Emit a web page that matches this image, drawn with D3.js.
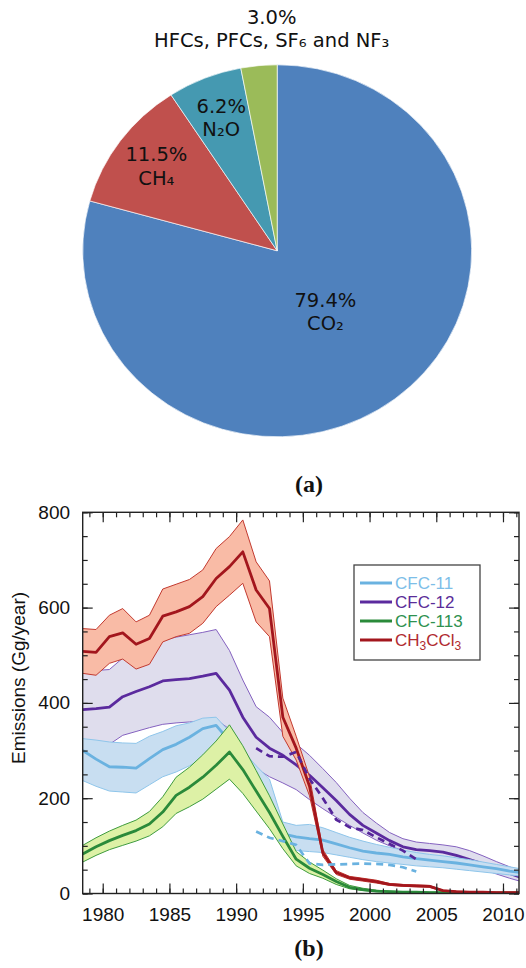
<!DOCTYPE html>
<html>
<head>
<meta charset="utf-8">
<script src="https://cdn.jsdelivr.net/npm/d3@7"></script>
<style>
  html, body { margin: 0; padding: 0; background: #fff; }
  svg { display: block; }
</style>
</head>
<body>
<svg id="fig" width="526" height="968"></svg>
<script>
// ---------- Panel (a): share of greenhouse-gas emissions (%) ----------
const gasNames  = ["CO₂", "CH₄", "N₂O", "HFCs, PFCs, SF₆ and NF₃"];
const gasShares = [79.4, 11.5, 6.2, 3.0];
const gasColors = ["#4F81BD", "#C0504D", "#4599B1", "#9BBB59"];

// ---------- Panel (b): emissions (Gg/year), annual means ----------
const years = [1978, 1979, 1980, 1981, 1982, 1983, 1984, 1985, 1986, 1987,
               1988, 1989, 1990, 1991, 1992, 1993, 1994, 1995, 1996, 1997,
               1998, 1999, 2000, 2001, 2002, 2003, 2004, 2005, 2006, 2007,
               2008, 2009, 2010, 2011];

const cfc11   = [300, 282, 266, 265, 263, 283, 302, 313, 328, 346, 353, 320, 265, 215, 185, 125, 119, 115, 112, 104, 96, 89, 85, 82, 77, 73, 70, 67, 64, 60, 56, 52, 47, 43];
const cfc11Lo = [237, 225, 215, 213, 211, 228, 245, 255, 268, 282, 290, 262, 218, 178, 150, 95, 90, 88, 86, 81, 76, 71, 67, 64, 61, 58, 56, 54, 51, 48, 45, 42, 39, 36];
const cfc11Hi = [325, 322, 318, 316, 315, 330, 340, 352, 358, 368, 370, 340, 300, 268, 240, 150, 143, 145, 138, 128, 118, 110, 103, 97, 91, 86, 82, 79, 75, 71, 66, 61, 56, 51];

const cfc12   = [386, 388, 391, 413, 424, 434, 446, 449, 451, 456, 462, 427, 370, 328, 305, 290, 270, 248, 222, 195, 166, 143, 127, 111, 98, 92, 90, 87, 80, 71, 62, 52, 42, 32];
const cfc12Lo = [310, 311, 313, 332, 340, 348, 355, 358, 360, 362, 365, 345, 305, 262, 245, 232, 218, 197, 178, 160, 143, 127, 112, 100, 90, 80, 75, 72, 67, 60, 51, 41, 32, 24];
const cfc12Hi = [468, 468, 470, 494, 505, 518, 532, 538, 543, 548, 554, 510, 448, 392, 370, 338, 314, 290, 262, 233, 200, 170, 148, 128, 115, 108, 105, 102, 98, 90, 79, 67, 56, 44];

const cfc113   = [83, 98, 111, 122, 132, 146, 171, 206, 223, 244, 269, 297, 260, 215, 170, 120, 72, 53, 40, 25, 13, 8, 5, 4, 3, 3, 2, 2, 2, 1, 1, 1, 1, 1];
const cfc113Lo = [66, 80, 92, 101, 110, 121, 140, 168, 182, 198, 219, 240, 210, 173, 136, 94, 58, 42, 32, 19, 10, 6, 4, 3, 2, 2, 1, 1, 1, 0, 0, 0, 0, 0];
const cfc113Hi = [101, 117, 131, 143, 154, 172, 203, 244, 265, 291, 320, 354, 310, 258, 205, 146, 88, 66, 49, 31, 17, 11, 7, 5, 4, 4, 3, 3, 3, 2, 2, 2, 2, 2];

const ch3ccl3   = [508, 506, 539, 547, 523, 535, 582, 591, 602, 623, 661, 686, 717, 637, 598, 370, 305, 225, 85, 44, 33, 29, 25, 19, 17, 16, 15, 6, 4, 3, 3, 2, 2, 2];
const ch3ccl3Lo = [462, 458, 483, 492, 471, 481, 528, 539, 546, 567, 602, 626, 651, 570, 539, 330, 280, 205, 78, 40, 30, 26, 22, 17, 15, 14, 13, 5, 3, 2, 2, 1, 1, 1];
const ch3ccl3Hi = [556, 554, 584, 598, 570, 584, 639, 649, 659, 679, 724, 749, 784, 696, 656, 410, 330, 245, 92, 48, 36, 32, 28, 21, 19, 18, 17, 7, 5, 4, 4, 3, 3, 3];

// independent (bottom-up) estimates, dashed
const altYears  = [1991, 1992, 1993, 1994, 1995, 1996, 1997, 1998, 1999, 2000, 2001, 2002, 2003];
const cfc11Alt  = [130, 117, 110, 102, 63, 60, 61, 62, 63, 62, 60, 55, 46];
const cfc12Alt  = [305, 288, 287, 297, 241, 200, 155, 139, 133, 118, 104, 90, 72];

const xTickYears = [1980, 1985, 1990, 1995, 2000, 2005, 2010];
const yTickValues = [0, 200, 400, 600, 800];

const svg = d3.select("#fig");

// ================= Panel (a): pie =================
{
  const cx = 277.2, cy = 250.8, rx = 194.5, ry = 186;
  const sy = ry / rx;
  const data = gasNames.map((name, i) => ({ name, share: gasShares[i], color: gasColors[i] }));
  const arcs = d3.pie().sort(null).value(d => d.share)(data);
  const arc = d3.arc().innerRadius(0).outerRadius(rx);

  svg.append("g")
    .attr("transform", `translate(${cx},${cy}) scale(1,${sy})`)
    .selectAll("path")
    .data(arcs)
    .join("path")
    .attr("d", arc)
    .attr("fill", d => d.data.color)
    .attr("stroke", "#ffffff")
    .attr("stroke-opacity", 0.75)
    .attr("stroke-width", 0.9);

  const fmt = d3.format(".1f");
  const labels = svg.append("g")
    .attr("font-family", "Verdana, 'DejaVu Sans', sans-serif")
    .attr("font-size", 19.5)
    .attr("fill", "#111")
    .attr("text-anchor", "middle");

  arcs.forEach(a => {
    const m = (a.startAngle + a.endAngle) / 2;
    let r, nudge = 1;
    if (a.data.share > 50) r = 0.41 * rx;        // big slice: label well inside
    else if (a.data.share >= 5) r = 0.77 * rx;   // mid slices: near the rim
    else { r = 1.2 * rx; nudge = 0.25; }         // thin slice: label above the rim
    const px = cx + Math.sin(m) * r * nudge;
    const py = cy - Math.cos(m) * r * sy;
    const t = labels.append("text").attr("x", px).attr("y", py - 5);
    t.append("tspan").attr("x", px).text(fmt(a.data.share) + "%");
    t.append("tspan").attr("x", px).attr("dy", 23.5).text(a.data.name);
  });

  svg.append("text")
    .attr("x", 309).attr("y", 492)
    .attr("text-anchor", "middle")
    .attr("font-family", "'Liberation Serif', 'Times New Roman', serif")
    .attr("font-weight", "bold")
    .attr("font-size", 24)
    .attr("fill", "#111")
    .text("(a)");
}

// ================= Panel (b): emissions time series =================
{
  const left = 82.7, right = 519, top = 512.3, bottom = 893.5;
  const x = d3.scaleLinear().domain([1978.5, 2011.2]).range([left, right]);
  const y = d3.scaleLinear().domain([0, 800]).range([bottom, top]);
  const midYear = yr => x(yr + 0.5);   // annual totals plotted at mid-year

  const g = svg.append("g");
  g.append("clipPath").attr("id", "plotClip")
    .append("rect").attr("x", left).attr("y", top)
    .attr("width", right - left).attr("height", bottom - top);

  const series = [
    { name: "CFC-12",  mid: cfc12,   lo: cfc12Lo,   hi: cfc12Hi,   line: "#5B2A9E", fill: "#DFDDED", edge: "#8461BF", text: "#5A2C99" },
    { name: "CFC-11",  mid: cfc11,   lo: cfc11Lo,   hi: cfc11Hi,   line: "#6AB2E0", fill: "#C8DEF1", edge: "#8EC5EA", text: "#7DBEE8" },
    { name: "CFC-113", mid: cfc113,  lo: cfc113Lo,  hi: cfc113Hi,  line: "#2A8A3A", fill: "#DDF1A6", edge: "#3E9B3E", text: "#2E9150" },
    { name: "CH3CCl3", mid: ch3ccl3, lo: ch3ccl3Lo, hi: ch3ccl3Hi, line: "#A3161D", fill: "#F9BBA6", edge: "#C2392F", text: "#B02A30" }
  ];

  const plot = g.append("g").attr("clip-path", "url(#plotClip)");
  const idx = d3.range(years.length);

  series.forEach(s => {
    const band = d3.area()
      .x(i => midYear(years[i]))
      .y0(i => y(s.lo[i]))
      .y1(i => y(s.hi[i]));
    plot.append("path").attr("d", band(idx))
      .attr("fill", s.fill).attr("stroke", "none");
    const edgeLo = d3.line().x(i => midYear(years[i])).y(i => y(s.lo[i]));
    const edgeHi = d3.line().x(i => midYear(years[i])).y(i => y(s.hi[i]));
    [edgeLo, edgeHi].forEach(fn => plot.append("path").attr("d", fn(idx))
      .attr("fill", "none").attr("stroke", s.edge).attr("stroke-width", 1));
    const centre = d3.line().x(i => midYear(years[i])).y(i => y(s.mid[i]));
    plot.append("path").attr("d", centre(idx))
      .attr("fill", "none").attr("stroke", s.line)
      .attr("stroke-width", 2.8).attr("stroke-linejoin", "round");
  });

  // dashed alternative estimates
  const altIdx = d3.range(altYears.length);
  [[cfc12Alt, "#55259A"], [cfc11Alt, "#6AB2E0"]].forEach(([vals, col]) => {
    const ln = d3.line().x(i => midYear(altYears[i])).y(i => y(vals[i]));
    plot.append("path").attr("d", ln(altIdx))
      .attr("fill", "none").attr("stroke", col)
      .attr("stroke-width", 2.7).attr("stroke-dasharray", "7,5");
  });

  // frame and inward ticks on all four sides
  const tickCol = "#222";
  const minorYears = d3.range(1979, 2012);
  const minorVals = d3.range(0, 801, 50);
  const fontAxis = "'Liberation Sans', Arial, Helvetica, sans-serif";

  function styleAxis(sel) {
    sel.select(".domain").remove();
    sel.selectAll("line").attr("stroke", tickCol).attr("stroke-width", 1.2);
    sel.selectAll("text").attr("fill", "#111")
      .attr("font-family", fontAxis).attr("font-size", 19);
  }

  g.append("g").attr("transform", `translate(0,${bottom})`)
    .call(d3.axisBottom(x).tickValues(minorYears).tickSize(-5).tickFormat(""))
    .call(styleAxis);
  g.append("g").attr("transform", `translate(0,${bottom})`)
    .call(d3.axisBottom(x).tickValues(xTickYears).tickSize(-10).tickPadding(14).tickFormat(d3.format("d")))
    .call(styleAxis);
  g.append("g").attr("transform", `translate(0,${top})`)
    .call(d3.axisTop(x).tickValues(minorYears).tickSize(-5).tickFormat(""))
    .call(styleAxis);
  g.append("g").attr("transform", `translate(0,${top})`)
    .call(d3.axisTop(x).tickValues(xTickYears).tickSize(-10).tickFormat(""))
    .call(styleAxis);

  g.append("g").attr("transform", `translate(${left},0)`)
    .call(d3.axisLeft(y).tickValues(minorVals).tickSize(-5).tickFormat(""))
    .call(styleAxis);
  g.append("g").attr("transform", `translate(${left},0)`)
    .call(d3.axisLeft(y).tickValues(yTickValues).tickSize(-10).tickPadding(12.7).tickFormat(d3.format("d")))
    .call(styleAxis);
  g.append("g").attr("transform", `translate(${right},0)`)
    .call(d3.axisRight(y).tickValues(minorVals).tickSize(-5).tickFormat(""))
    .call(styleAxis);
  g.append("g").attr("transform", `translate(${right},0)`)
    .call(d3.axisRight(y).tickValues(yTickValues).tickSize(-10).tickFormat(""))
    .call(styleAxis);

  g.append("rect")
    .attr("x", left).attr("y", top)
    .attr("width", right - left).attr("height", bottom - top)
    .attr("fill", "none").attr("stroke", tickCol).attr("stroke-width", 1.4);

  // y-axis title
  g.append("text")
    .attr("transform", `translate(25,678) rotate(-90)`)
    .attr("text-anchor", "middle")
    .attr("font-family", fontAxis).attr("font-size", 19)
    .attr("fill", "#111")
    .text("Emissions (Gg/year)");

  // legend
  const legendOrder = ["CFC-11", "CFC-12", "CFC-113", "CH3CCl3"];
  const leg = g.append("g").attr("font-family", fontAxis).attr("font-size", 17);
  leg.append("rect").attr("x", 354).attr("y", 565).attr("width", 126).attr("height", 95)
    .attr("fill", "#fff").attr("stroke", "#444").attr("stroke-width", 1.3);
  legendOrder.forEach((nm, k) => {
    const s = series.find(d => d.name === nm);
    const base = 589 + k * 19;
    leg.append("line").attr("x1", 360).attr("x2", 392)
      .attr("y1", base - 6).attr("y2", base - 6)
      .attr("stroke", s.line).attr("stroke-width", 3);
    const t = leg.append("text").attr("x", 395).attr("y", base).attr("fill", s.text);
    if (nm === "CH3CCl3") {
      t.append("tspan").text("CH");
      t.append("tspan").attr("dy", 4).attr("font-size", 12).text("3");
      t.append("tspan").attr("dy", -4).text("CCl");
      t.append("tspan").attr("dy", 4).attr("font-size", 12).text("3");
    } else {
      t.text(nm);
    }
  });

  svg.append("text")
    .attr("x", 309).attr("y", 956)
    .attr("text-anchor", "middle")
    .attr("font-family", "'Liberation Serif', 'Times New Roman', serif")
    .attr("font-weight", "bold")
    .attr("font-size", 24)
    .attr("fill", "#111")
    .text("(b)");
}
</script>
</body>
</html>
